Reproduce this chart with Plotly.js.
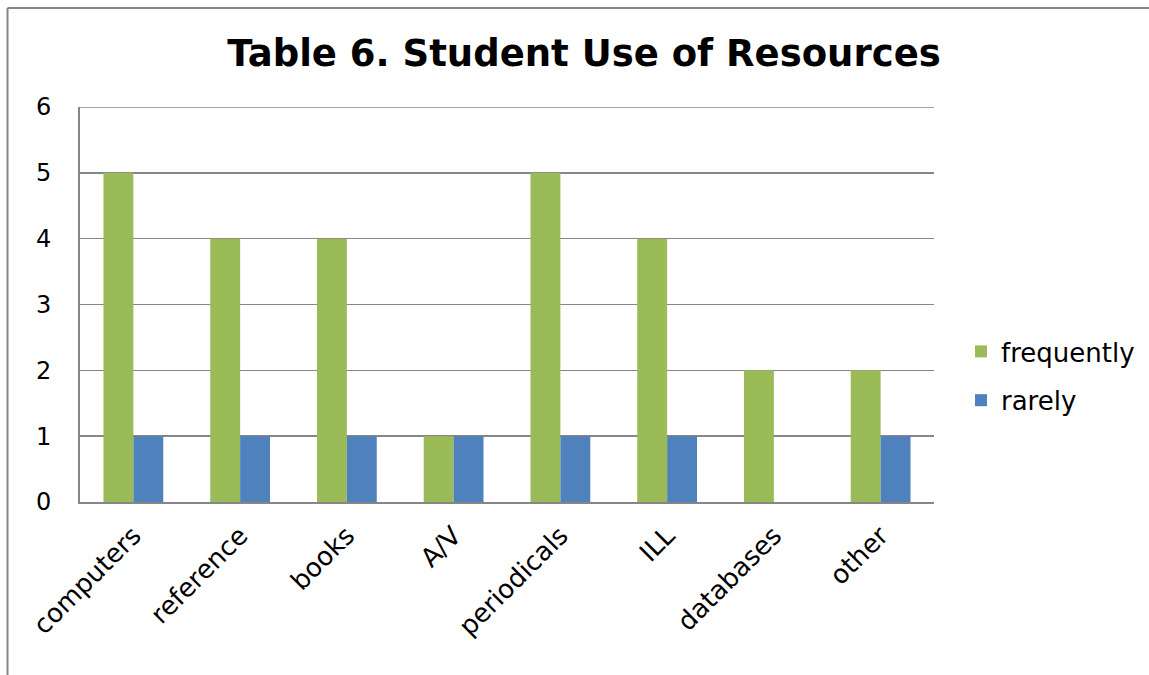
<!DOCTYPE html>
<html><head><meta charset="utf-8">
<script src="https://cdn.plot.ly/plotly-3.0.1.min.js"></script>
<style>html,body{margin:0;padding:0;background:#fff}#chart{width:1149px;height:675px}</style>
</head><body><div id="chart"></div>
<script>
const categories = ["computers","reference","books","A/V","periodicals","ILL","databases","other"];
const frequently = [5,4,4,1,5,4,2,2];
const rarely = [1,1,1,1,1,1,0,1];
const seriesNames = ["frequently","rarely"];
const yTicks = [0,1,2,3,4,5,6];

const FONT = "DejaVu Sans, Verdana, sans-serif";
const traces = [
  {type:"bar", name:seriesNames[0], legendgroup:"a", x:categories, y:frequently, marker:{color:"#9BBB59"}},
  {type:"bar", name:seriesNames[1], legendgroup:"b", x:categories, y:rarely, marker:{color:"#4F81BD"}}
];
const L=80, R=934, T=107, B=502;
const layout = {
  width:1149, height:675,
  margin:{l:L, r:1149-R, t:T, b:675-B, pad:0, autoexpand:false},
  paper_bgcolor:"#fff", plot_bgcolor:"#fff",
  font:{family:FONT, size:24, color:"#000"},
  title:{text:"<b>Table 6. Student Use of Resources</b>", font:{family:FONT, size:37, color:"#000"},
         x:584/1149, xanchor:"center", y:1-53/675, yanchor:"middle"},
  barmode:"group", bargap:0.44, bargroupgap:0,
  xaxis:{type:"category", tickangle:-45, showgrid:false, showline:true, linecolor:"#868686", linewidth:2,
         ticks:"", tickfont:{family:FONT,size:26,color:"#000"}, ticklabelstandoff:6, automargin:false},
  yaxis:{range:[0,6], tickvals:yTicks, showgrid:true, gridcolor:"#868686", gridwidth:1.5,
         showline:true, linecolor:"#868686", linewidth:2, ticks:"", zeroline:false, automargin:false,
         tickfont:{family:FONT,size:24,color:"#000"}, ticklabelstandoff:22},
  legend:{x:(961-L)/(R-L), xanchor:"left", y:(B-328)/(B-T), yanchor:"top", traceorder:"grouped",
          font:{family:FONT,size:26,color:"#000"}, tracegroupgap:12, itemwidth:30},
  showlegend:true,
  shapes:[
    {type:"line", xref:"paper", yref:"y", x0:0, x1:1, y0:6, y1:6, line:{color:"#868686", width:1.5}},
    {type:"line", xref:"paper", yref:"paper", x0:(7.5-L)/(R-L), x1:(1160-L)/(R-L), y0:(B-8)/(B-T), y1:(B-8)/(B-T), line:{color:"#868686", width:2}},
    {type:"line", xref:"paper", yref:"paper", x0:(7.5-L)/(R-L), x1:(7.5-L)/(R-L), y0:(B-8)/(B-T), y1:(B-690)/(B-T), line:{color:"#868686", width:2}}
  ]
};
Plotly.newPlot("chart", traces, layout, {displayModeBar:false, staticPlot:true});
</script></body></html>
